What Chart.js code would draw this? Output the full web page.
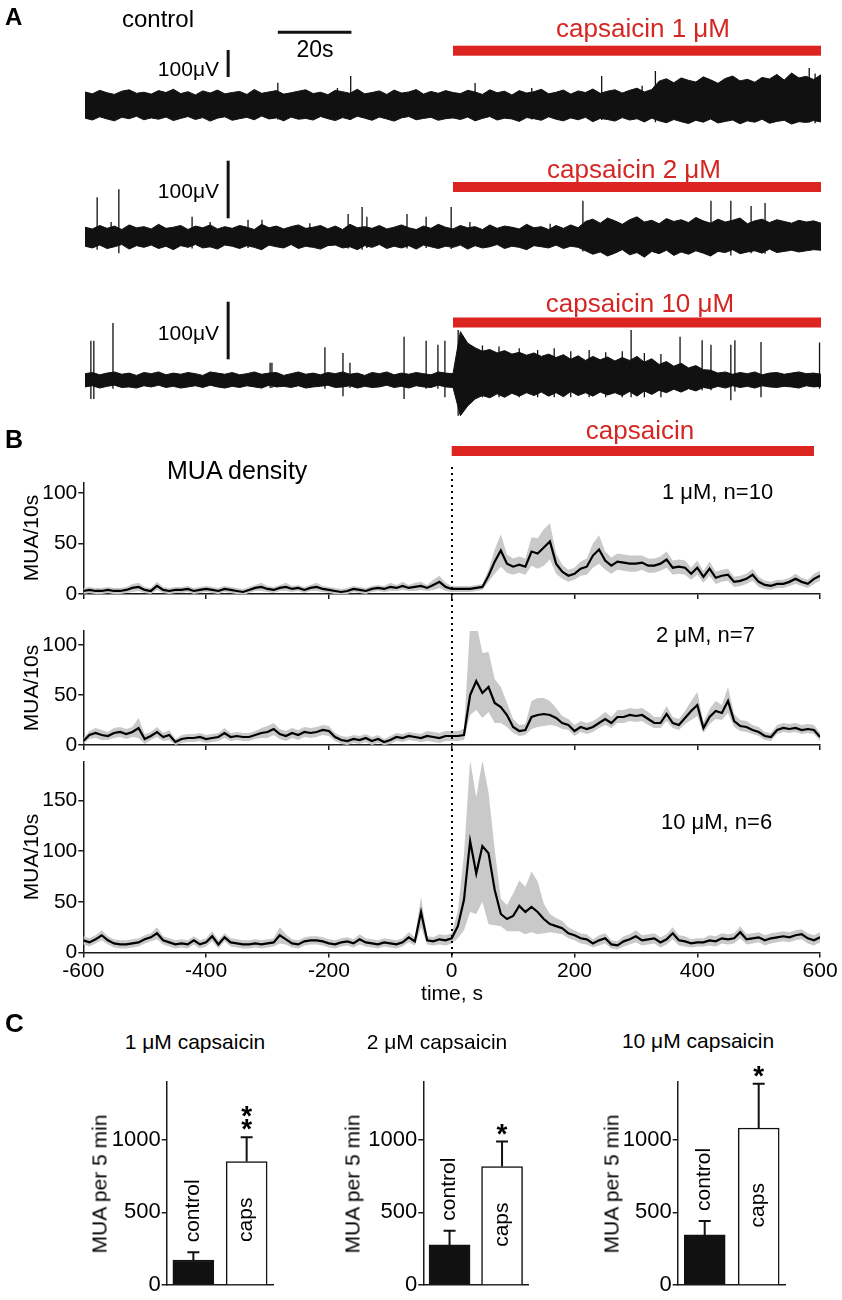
<!DOCTYPE html>
<html>
<head>
<meta charset="utf-8">
<script src="https://cdn.jsdelivr.net/npm/chart.js@4.4.1/dist/chart.umd.min.js"></script>
<style>
  html, body { margin: 0; padding: 0; background: #fff; }
  #fig { position: relative; width: 842px; height: 1300px; overflow: hidden;
         font-family: 'Liberation Sans', Arial, sans-serif; color: #000; }
  #fig canvas { position: absolute; }
  .t { position: absolute; white-space: nowrap; line-height: 1; transform: translate(-50%, -50%); }
  .l { transform: translate(0, -50%); }
  .r { transform: translate(-100%, -50%); }
  .v { transform: translate(-50%, -50%) rotate(-90deg); }
  .red { color: #d42723; }
  .pl { font-weight: bold; }
  #zero { position: absolute; width: 2px;
          background: repeating-linear-gradient(to bottom, #000 0 2px, transparent 2px 6px); }
</style>
</head>
<body>
<div id="fig">
  <canvas id="tr1" width="842" height="115" style="left:0;top:20px"></canvas>
  <canvas id="tr2" width="842" height="115" style="left:0;top:150px"></canvas>
  <canvas id="tr3" width="842" height="135" style="left:0;top:290px"></canvas>

  <canvas id="b1" width="842" height="190" style="left:0;top:420px"></canvas>
  <canvas id="b2" width="842" height="150" style="left:0;top:612px"></canvas>
  <canvas id="b3" width="842" height="263" style="left:0;top:747px"></canvas>

  <canvas id="c1" width="190" height="240" style="left:100px;top:1060px"></canvas>
  <canvas id="c2" width="190" height="240" style="left:355px;top:1060px"></canvas>
  <canvas id="c3" width="190" height="240" style="left:610px;top:1060px"></canvas>

  <div id="zero"></div>

  <!-- panel A -->
  <div class="t l pl" style="left:5px;top:17px;font-size:24px">A</div>
  <div class="t l" style="left:122px;top:19px;font-size:24px">control</div>
  <div class="t" style="left:315px;top:49px;font-size:23px">20s</div>
  <div class="t red" style="left:643px;top:28px;font-size:26px">capsaicin 1 μM</div>
  <div class="t r" style="left:219px;top:68px;font-size:21px">100μV</div>
  <div class="t red" style="left:634px;top:169px;font-size:26px">capsaicin 2 μM</div>
  <div class="t r" style="left:219px;top:190px;font-size:21px">100μV</div>
  <div class="t red" style="left:640px;top:303px;font-size:26px">capsaicin 10 μM</div>
  <div class="t r" style="left:219px;top:332px;font-size:21px">100μV</div>

  <!-- panel B -->
  <div class="t l pl" style="left:5px;top:439px;font-size:25px">B</div>
  <div class="t red" style="left:640px;top:430px;font-size:26px">capsaicin</div>
  <div class="t l" style="left:167px;top:470px;font-size:25px">MUA density</div>
  <div class="t l" style="left:662px;top:492px;font-size:22px">1 μM, n=10</div>
  <div class="t l" style="left:656px;top:635px;font-size:22px">2 μM, n=7</div>
  <div class="t l" style="left:661px;top:822px;font-size:22px">10 μM, n=6</div>
  <div class="t v" style="left:30px;top:538px;font-size:21px">MUA/10s</div>
  <div class="t v" style="left:30px;top:688px;font-size:21px">MUA/10s</div>
  <div class="t v" style="left:30px;top:857px;font-size:21px">MUA/10s</div>
  <div class="t" style="left:452px;top:992px;font-size:21px">time, s</div>

  <!-- panel C -->
  <div class="t l pl" style="left:5px;top:1023px;font-size:26px">C</div>
  <div class="t" style="left:195px;top:1041px;font-size:21px">1 μM capsaicin</div>
  <div class="t" style="left:437px;top:1041px;font-size:21px">2 μM capsaicin</div>
  <div class="t" style="left:698px;top:1040px;font-size:21px">10 μM capsaicin</div>
  <div class="t v" style="left:99px;top:1184px;font-size:21px">MUA per 5 min</div>
  <div class="t v" style="left:352px;top:1184px;font-size:21px">MUA per 5 min</div>
  <div class="t v" style="left:611px;top:1184px;font-size:21px">MUA per 5 min</div>
</div>

<script>
// ---------- panel A: raw traces, envelope every 2 s (µV) ----------
const TRACE_DT = 2;
const TRACE_LEN = 200;
const capsA = [100, 200];
const scaleUV = 100;
const scaleSec = 20;

const trace1Hi = [52,45,58,49,43,55,60,47,51,44, 57,50,62,46,53,41,56,48,59,45, 50,54,43,61,47,52,57,44,49,55,
  60,46,51,42,58,53,47,62,45,50, 56,43,59,48,52,61,44,54,47,57, 50,
  46,58,52,43,60,49,55,41,57,48, 53,62,45,51,59,44,56,50,63,47, 55,60,48,58,66,52,61,
  92,101,86,104,95,89,108,97,84,102, 111,93,99,88,106,100,117,96,122,104, 110,98,116];
const trace1Lo = [-45,-52,-40,-48,-55,-42,-47,-38,-51,-44, -49,-41,-54,-46,-39,-50,-43,-56,-45,-40,
  -53,-47,-42,-51,-37,-48,-44,-55,-41,-49, -46,-52,-39,-47,-54,-43,-50,-38,-45,-53, -41,-48,-56,-44,-39,-51,-46,-42,-53,-47, -44,
  -50,-41,-55,-46,-39,-52,-45,-48,-57,-43, -47,-53,-40,-49,-55,-44,-51,-42,-58,-46, -50,-56,-43,-52,-47,-59,-45,
  -55,-62,-50,-58,-65,-53,-60,-48,-63,-57, -52,-66,-55,-60,-49,-64,-57,-53,-67,-58, -61,-54,-59];
const trace1SpikeT  = [52.4, 68.6, 72.2, 106, 121.4, 140.4, 151.4, 155, 196.8, 198.4];
const trace1SpikeHi = [86, 67, 111, 85, 67, 111, 75, 130, 141, 120];
const trace1SpikeLo = [-50, -48, -52, -55, -50, -52, -54, -60, -62, -64];

const trace2Hi = [17,14,20,15,19,13,21,16,18,14, 22,15,17,20,13,19,16,21,14,18, 15,20,17,13,22,16,19,14,18,21,
  15,17,20,14,19,13,22,16,18,15, 20,14,17,21,16,13,19,15,22,17, 14,20,16,18,13,21,15,19,17,14, 22,16,18,13,20,15,21,16,
  27,31,24,33,28,22,30,35,26,29, 23,32,27,30,25,34,28,24,31,26, 29,33,23,28,31,25,30,27,24,29, 26,28,24];
const trace2Lo = [-16,-19,-14,-20,-17,-13,-21,-15,-18,-14, -20,-16,-22,-15,-18,-13,-19,-17,-21,-14,
  -16,-20,-15,-18,-22,-14,-17,-19,-13,-20, -16,-18,-21,-15,-14,-19,-17,-22,-15,-18, -13,-20,-16,-19,-15,-21,-14,-17,-20,-16,
  -18,-14,-21,-15,-19,-17,-13,-20,-16,-18, -22,-15,-17,-19,-14,-20,-16,-18,
  -24,-30,-26,-33,-28,-22,-31,-27,-35,-25, -29,-23,-32,-26,-30,-24,-28,-33,-25,-27, -22,-29,-26,-24,-28,-21,-27,-25,-23,-26, -24,-22,-23];
const trace2SpikeT  = [3.3, 7.1, 9.2, 29.1, 34, 44.3, 48.1, 61.1, 71.5, 75.3, 76.6, 87.5, 92.7, 99.5, 104.6, 126.4, 135.3, 170.1, 175.5, 181, 184.8];
const trace2SpikeHi = [69, 26, 83, 35, 26, 30, 30, 24, 40, 52, 35, 40, 35, 52, 26, 23, 63, 63, 63, 54, 59];
const trace2SpikeLo = [-22, -18, -28, -20, -18, -19, -20, -18, -20, -22, -19, -20, -19, -21, -18, -18, -25, -30, -32, -28, -29];

const trace3Hi = [11,13,9,12,14,10,12,8,13,11, 14,9,12,10,13,11,8,14,12,10, 13,9,11,14,10,12,13,8,11,14,
  10,12,9,13,11,14,10,12,8,13, 11,14,9,12,10,13,11,9,14,12, 11,
  84,64,56,50,53,47,51,45,48,43, 47,41,45,39,44,36,42,34,41,35, 40,33,39,34,41,31,37,27,32,24,
  29,21,25,18,17,12,14,10,13,11, 14,9,12,13,10,12,14,11,12,10];
const trace3Lo = [-12,-10,-14,-11,-9,-13,-12,-14,-10,-12, -9,-13,-11,-14,-12,-10,-13,-9,-12,-14,
  -11,-13,-10,-12,-14,-9,-12,-11,-13,-10, -14,-12,-11,-9,-13,-12,-10,-14,-11,-13, -12,-9,-13,-11,-14,-10,-12,-13,-9,-12, -13,
  -62,-45,-33,-27,-31,-24,-30,-23,-28,-22, -27,-21,-28,-22,-29,-20,-27,-22,-28,-21, -26,-22,-27,-20,-28,-19,-25,-18,-22,-16,
  -21,-15,-19,-13,-15,-11,-14,-10,-13,-11, -14,-10,-12,-13,-11,-12,-14,-10,-12,-11];
const trace3SpikeT  = [1.6, 2.4, 7.6, 50.3, 50.8, 65.2, 70.1, 72, 86.7, 92.7, 95.9, 97.8, 101.4, 148.4, 161.7, 167.7, 170.1, 175.5, 176.6, 183.7, 199.6,
  108, 112.5, 118, 123, 127.5, 132, 137, 141.5, 146, 152, 156.5];
const trace3SpikeHi = [68, 68, 99, 30, 30, 57, 47, 30, 75, 68, 61, 68, 87, 87, 75, 69, 61, 61, 69, 66, 65,
  60, 58, 55, 52, 55, 50, 52, 48, 50, 47, 45];
const trace3SpikeLo = [-33, -33, -15, -14, -14, -15, -28, -14, -33, -15, -15, -30, -62, -30, -20, -18, -18, -35, -20, -30, -15,
  -30, -30, -30, -30, -30, -30, -30, -30, -30, -30, -30];

// ---------- panel B: MUA density, 10-s steps from -600 s ----------
const MUA_T0 = -600;
const MUA_DT = 10;
const capsB = [0, 590];
const muaXTicks = [-600, -400, -200, 0, 200, 400, 600];
const muaYTicks = [0, 50, 100, 150];

const mua1Mean = [3,4,3,3,4,3,3,4,6,7, 4,3,8,4,3,4,4,5,3,4, 5,4,3,5,4,3,2,4,6,7, 5,4,6,7,5,6,4,6,7,5,
  4,3,2,3,5,4,3,5,6,5, 7,6,8,6,7,8,6,9,12,7, 5,
  5,5,5,6,7,18,32,43,30,27, 29,27,42,40,46,52,30,22,18,20, 25,27,38,44,33,28,32,31,30,30,
  31,28,28,30,34,26,27,26,20,26, 17,25,16,18,19,12,13,15,19,12, 9,8,10,10,12,15,12,10,15,18];
const mua1Sem = [3,3,3,3,3,3,3,3,4,4, 3,3,4,3,3,3,3,3,3,3, 3,3,3,3,3,3,3,3,3,4, 3,3,3,4,3,3,3,3,4,3,
  3,3,3,3,3,3,3,3,3,3, 4,3,4,3,4,4,3,5,6,4, 3,
  3,3,3,3,3,6,12,16,9,8, 8,8,14,15,18,18,10,7,6,6, 7,8,12,14,9,8,8,8,8,8,
  7,7,7,7,8,7,7,7,6,7, 6,7,6,6,6,5,5,5,6,5, 4,4,4,4,4,5,4,4,5,5];

const mua2Mean = [4,10,12,10,9,12,13,11,13,17, 6,9,13,8,10,3,6,7,7,8, 6,7,8,12,8,9,8,8,10,12, 13,16,11,9,12,10,13,12,13,15,
  14,8,5,4,6,5,7,4,6,3, 5,8,7,9,8,7,9,8,7,9, 9,
  9,10,50,64,52,58,42,38,30,18, 14,15,28,30,31,30,27,22,20,14, 18,16,18,22,26,22,28,28,30,29,
  30,26,22,22,31,22,20,27,34,40, 17,28,34,32,44,24,19,18,15,13, 9,8,15,17,16,17,15,16,15,8];
const mua2Up = [3,4,5,5,4,5,5,5,5,10, 5,4,5,4,5,3,4,4,4,4, 4,4,4,5,4,4,4,4,4,5, 6,6,5,5,5,5,5,5,5,5,
  5,4,4,4,4,4,4,4,4,3, 4,4,4,4,4,4,5,5,5,5, 5,
  5,6,70,58,40,35,24,20,12,8, 6,6,16,17,16,14,10,7,6,6, 6,6,6,6,7,6,7,7,7,7,
  7,7,6,6,8,6,6,7,10,13, 6,8,10,8,14,7,6,6,5,5, 4,4,5,5,5,5,5,5,5,4];
const mua2Dn = [3,4,5,5,4,5,5,5,5,10, 5,4,5,4,5,3,4,4,4,4, 4,4,4,5,4,4,4,4,4,5, 6,6,5,5,5,5,5,5,5,5,
  5,4,4,4,4,4,4,4,4,3, 4,4,4,4,4,4,5,5,5,5, 5,
  5,5,20,29,25,25,20,16,12,6, 5,5,12,12,12,10,8,6,5,5, 5,5,5,5,6,5,6,6,6,6,
  6,6,5,5,7,5,5,6,9,11, 5,7,8,7,12,6,5,5,4,4, 4,4,4,4,4,4,4,4,4,4];

const mua3Mean = [12,10,13,17,12,9,8,8,9,10, 13,15,19,12,10,8,9,8,12,8, 10,16,8,15,10,9,8,8,9,8, 9,10,17,13,9,8,11,12,12,11,
  9,8,10,11,9,13,10,9,8,10, 9,8,10,15,11,40,12,11,13,12, 14,
  26,52,110,78,105,98,62,38,33,36, 46,40,45,40,33,28,26,24,19,17, 14,13,9,12,14,8,7,11,13,16,
  12,13,14,10,13,19,12,11,9,10, 10,12,11,14,13,14,20,13,14,15, 12,14,15,16,15,17,18,14,12,15];
const mua3Up = [4,4,4,5,4,4,4,4,4,4, 4,4,6,4,4,4,4,4,4,4, 4,5,4,4,4,4,4,4,4,4, 4,4,8,5,4,4,4,4,4,4,
  4,4,4,4,4,5,4,4,4,4, 4,4,4,5,4,15,4,4,5,5, 5,
  15,45,80,75,85,60,40,15,14,22, 25,25,35,30,15,10,8,7,6,5, 5,5,4,5,5,4,4,5,5,6,
  5,5,5,5,5,6,5,5,4,4, 4,5,5,5,5,5,6,5,5,5, 5,5,5,5,5,5,5,5,5,5];
const mua3Dn = [4,4,4,5,4,4,4,4,4,4, 4,4,6,4,4,4,4,4,4,4, 4,5,4,4,4,4,4,4,4,4, 4,4,8,5,4,4,4,4,4,4,
  4,4,4,4,4,5,4,4,4,4, 4,4,4,5,4,15,4,4,5,5, 5,
  12,30,70,40,55,70,35,12,12,15, 25,22,25,22,14,8,7,6,5,5, 5,5,4,5,5,4,4,5,5,6,
  5,5,5,5,5,6,5,5,4,4, 4,5,5,5,5,5,6,5,5,5, 5,5,5,5,5,5,5,5,5,5];

// ---------- panel C: MUA per 5 min, mean and SEM ----------
const barGroups = ['control', 'caps'];
const barYTicks = [0, 500, 1000];
const c1Mean = [172, 850];
const c1Sem  = [53, 168];
const c2Mean = [276, 816];
const c2Sem  = [98, 172];
const c3Mean = [345, 1081];
const c3Sem  = [96, 305];
const sigMarks = ['**', '*', '*'];

// ---------- drawing ----------
Chart.defaults.font.family = "'Liberation Sans', Arial, sans-serif";
Chart.defaults.color = '#000';
Chart.defaults.animation = false;
Chart.defaults.events = [];
Chart.defaults.plugins.legend.display = false;
Chart.defaults.plugins.tooltip.enabled = false;

const INK = '#111';
const RED = '#dc2420';
const GREY = '#c9c9c9';
const AXIS = '#1a1a1a';
const FONT = "'Liberation Sans', Arial, sans-serif";

const annot = {};

function box(id) {
  const c = document.getElementById(id);
  return { c, x: c.offsetLeft, y: c.offsetTop, w: c.width, h: c.height };
}

function series(vals, t0, dt) {
  return vals.map((v, i) => ({ x: t0 + i * dt, y: v }));
}

function spikePts(ts, hi, lo) {
  const pts = [];
  ts.forEach((t, i) => {
    pts.push({ x: t, y: lo[i] }, { x: t, y: hi[i] }, { x: t, y: null });
  });
  return pts;
}

function fixedTicks(vals, max) {
  return (s) => { s.ticks = vals.filter((v) => v <= max).map((v) => ({ value: v })); };
}

const marksPlugin = {
  id: 'marks',
  afterDatasetsDraw(chart) {
    const m = annot[chart.canvas.id];
    if (!m) return;
    const { ctx } = chart;
    const x = chart.scales.x, y = chart.scales.y;
    ctx.save();
    if (m.drug) {
      const x0 = x.getPixelForValue(m.drug[0]);
      const x1 = x.getPixelForValue(m.drug[1]);
      ctx.fillStyle = RED;
      ctx.fillRect(x0, m.drugY - 5, x1 - x0, 10);
    }
    ctx.strokeStyle = INK;
    ctx.lineWidth = 3;
    if (m.uvBar) {
      const px = x.getPixelForValue(m.uvBar.t);
      const len = y.getPixelForValue(0) - y.getPixelForValue(scaleUV);
      ctx.beginPath();
      ctx.moveTo(px, m.uvBar.bottom);
      ctx.lineTo(px, m.uvBar.bottom - len);
      ctx.stroke();
    }
    if (m.secBar) {
      ctx.beginPath();
      ctx.moveTo(x.getPixelForValue(m.secBar.t), m.secBar.y);
      ctx.lineTo(x.getPixelForValue(m.secBar.t + scaleSec), m.secBar.y);
      ctx.stroke();
    }
    ctx.restore();
  }
};

function traceChart(id, hi, lo, spT, spHi, spLo, zeroY, pxPerUV, marks) {
  const b = box(id);
  const m = { drug: capsA, drugY: marks.drugY - b.y };
  if (marks.uvBar) m.uvBar = { t: marks.uvBar.t, bottom: marks.uvBar.bottom - b.y };
  if (marks.secBar) m.secBar = { t: marks.secBar.t, y: marks.secBar.y - b.y };
  annot[id] = m;
  return new Chart(b.c, {
    type: 'line',
    data: {
      datasets: [
        { data: spikePts(spT, spHi, spLo), borderColor: INK, borderWidth: 1.3, spanGaps: false },
        { data: series(hi, 0, TRACE_DT), borderColor: INK, borderWidth: 1, fill: false },
        { data: series(lo, 0, TRACE_DT), borderColor: INK, borderWidth: 1, fill: '-1', backgroundColor: INK }
      ]
    },
    options: {
      responsive: false,
      layout: { padding: { left: 85 - b.x, right: b.x + b.w - 821, top: 0, bottom: 0 } },
      elements: { point: { radius: 0 }, line: { tension: 0 } },
      scales: {
        x: { type: 'linear', display: false, min: 0, max: TRACE_LEN },
        y: { display: false, min: -(b.y + b.h - zeroY) / pxPerUV, max: (zeroY - b.y) / pxPerUV }
      }
    },
    plugins: [marksPlugin]
  });
}

traceChart('tr1', trace1Hi, trace1Lo, trace1SpikeT, trace1SpikeHi, trace1SpikeLo, 106, 0.27,
  { drugY: 50.7, uvBar: { t: 38.9, bottom: 77 }, secBar: { t: 52.4, y: 32.3 } });
traceChart('tr2', trace2Hi, trace2Lo, trace2SpikeT, trace2SpikeHi, trace2SpikeLo, 237, 0.576,
  { drugY: 187, uvBar: { t: 38.9, bottom: 218.3 } });
traceChart('tr3', trace3Hi, trace3Lo, trace3SpikeT, trace3SpikeHi, trace3SpikeLo, 380, 0.576,
  { drugY: 322.5, uvBar: { t: 38.9, bottom: 359.3 } });

function axisStyle() {
  return {
    grid: { drawOnChartArea: false, drawTicks: true, tickLength: 5, color: AXIS, lineWidth: 1.5 },
    border: { color: AXIS, width: 1.5 }
  };
}

function muaChart(id, mean, up, dn, yMax, area, xLabels, xh, drugY) {
  const b = box(id);
  if (drugY) annot[id] = { drug: capsB, drugY: drugY - b.y };
  const t = (i) => MUA_T0 + i * MUA_DT;
  return new Chart(b.c, {
    type: 'line',
    data: {
      datasets: [
        { data: mean.map((v, i) => ({ x: t(i), y: v })), borderColor: '#000', borderWidth: 2.2 },
        { data: mean.map((v, i) => ({ x: t(i), y: v + up[i] })), borderWidth: 0, borderColor: GREY, fill: false },
        { data: mean.map((v, i) => ({ x: t(i), y: v - dn[i] })), borderWidth: 0, borderColor: GREY,
          fill: '-1', backgroundColor: GREY }
      ]
    },
    options: {
      responsive: false,
      layout: { padding: { left: 0, top: area.t - b.y, right: b.x + b.w - area.r, bottom: b.y + b.h - area.b - xh } },
      elements: { point: { radius: 0 }, line: { tension: 0 } },
      scales: {
        x: Object.assign(axisStyle(), {
          type: 'linear', min: muaXTicks[0], max: muaXTicks[muaXTicks.length - 1],
          ticks: { display: xLabels, font: { size: 21 }, padding: 1, maxRotation: 0,
                   callback: (v) => String(v) },
          afterBuildTicks: fixedTicks(muaXTicks, 600),
          afterFit: (s) => { s.height = xh; }
        }),
        y: Object.assign(axisStyle(), {
          min: 0, max: yMax,
          ticks: { font: { size: 21 }, padding: 1, callback: (v) => String(v) },
          afterBuildTicks: fixedTicks(muaYTicks, yMax),
          afterFit: (s) => { s.width = area.l - b.x; }
        })
      }
    },
    plugins: [marksPlugin]
  });
}

muaChart('b1', mua1Mean, mua1Sem, mua1Sem, 110, { l: 83.3, r: 820.1, t: 482.7, b: 594 }, false, 8, 451);
muaChart('b2', mua2Mean, mua2Up, mua2Dn, 114, { l: 83.3, r: 820.1, t: 631, b: 745 }, false, 8);
const b3 = muaChart('b3', mua3Mean, mua3Up, mua3Dn, 188, { l: 83.3, r: 820.1, t: 762, b: 952.5 }, true, 35);

const zero = document.getElementById('zero');
zero.style.left = (b3.canvas.offsetLeft + b3.scales.x.getPixelForValue(0) - 1) + 'px';
zero.style.top = '467px';
zero.style.height = '488px';

const barCfg = {};

const barMarks = {
  id: 'barMarks',
  afterDatasetsDraw(chart) {
    const cfg = barCfg[chart.canvas.id];
    const { ctx } = chart;
    const y = chart.scales.y;
    const meta = chart.getDatasetMeta(0);
    ctx.save();
    ctx.strokeStyle = INK;
    ctx.fillStyle = '#000';
    ctx.lineWidth = 2;
    meta.data.forEach((bar, i) => {
      const top = y.getPixelForValue(cfg.mean[i]);
      const err = y.getPixelForValue(cfg.mean[i] + cfg.sem[i]);
      ctx.beginPath();
      ctx.moveTo(bar.x, top);
      ctx.lineTo(bar.x, err);
      ctx.moveTo(bar.x - 6, err);
      ctx.lineTo(bar.x + 6, err);
      ctx.stroke();

      ctx.save();
      ctx.font = '21px ' + FONT;
      ctx.textBaseline = 'middle';
      if (i === 0) {
        ctx.translate(bar.x, err - 10);
        ctx.rotate(-Math.PI / 2);
        ctx.textAlign = 'left';
      } else {
        ctx.translate(bar.x, top + cfg.capsOffset);
        ctx.rotate(-Math.PI / 2);
        ctx.textAlign = 'right';
      }
      ctx.fillText(barGroups[i], 0, 0);
      ctx.restore();

      if (i === 1) {
        ctx.font = 'bold 28px ' + FONT;
        ctx.textAlign = 'center';
        ctx.textBaseline = 'alphabetic';
        for (let k = 0; k < cfg.stars.length; k++) {
          ctx.fillText('*', bar.x, err - 15 - 13 * k + 16);
        }
      }
    });
    ctx.restore();
  }
};

function barChart(id, mean, sem, stars, area, capsOffset) {
  const b = box(id);
  barCfg[id] = { mean, sem, stars, capsOffset };
  return new Chart(b.c, {
    type: 'bar',
    data: {
      labels: barGroups,
      datasets: [{ data: mean, backgroundColor: [INK, '#fff'], borderColor: INK, borderWidth: 1.5,
                   barThickness: 41 }]
    },
    options: {
      responsive: false,
      layout: { padding: { left: 0, top: area.t - b.y, right: b.x + b.w - area.r, bottom: b.y + b.h - area.b - 1 } },
      scales: {
        x: {
          grid: { drawOnChartArea: false, drawTicks: false },
          border: { color: AXIS, width: 1.5 },
          ticks: { display: false },
          afterFit: (s) => { s.height = 1; }
        },
        y: Object.assign(axisStyle(), {
          min: 0, max: 1400,
          ticks: { font: { size: 22 }, padding: 1, callback: (v) => String(v) },
          afterBuildTicks: fixedTicks(barYTicks, 1400),
          afterFit: (s) => { s.width = area.l - b.x; }
        })
      }
    },
    plugins: [barMarks]
  });
}

barChart('c1', c1Mean, c1Sem, sigMarks[0], { l: 166.7, r: 273.3, t: 1081.7, b: 1285 }, 36);
barChart('c2', c2Mean, c2Sem, sigMarks[1], { l: 423.3, r: 528.3, t: 1081.7, b: 1285 }, 36);
barChart('c3', c3Mean, c3Sem, sigMarks[2], { l: 677.7, r: 785.7, t: 1081.7, b: 1285 }, 55);
</script>
</body>
</html>
